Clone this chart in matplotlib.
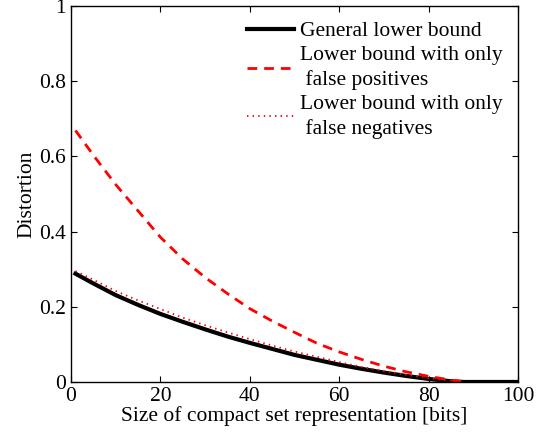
import numpy as np
import matplotlib
matplotlib.use('Agg')
import matplotlib.pyplot as plt

plt.rcParams['font.family'] = ['Liberation Serif', 'DejaVu Serif']
plt.rcParams['mathtext.fontset'] = 'stix'

# size of compact set representation [bits]
bits = [1, 5, 10, 15, 20, 25, 30, 35, 40, 45, 50, 55, 60, 65, 70, 75, 80, 85, 88, 90, 95, 100]

# general lower bound
general = [0.288, 0.262, 0.231, 0.205, 0.181, 0.160, 0.140, 0.121, 0.104, 0.088,
           0.072, 0.059, 0.046, 0.035, 0.025, 0.016, 0.008, 0.002, 0.0, 0.0, 0.0, 0.0]

# only false positives
bits_fp = [1, 5, 10, 15, 20, 25, 30, 35, 40, 45, 50, 55, 60, 65, 70, 75, 80, 85, 88]
false_pos = [0.669, 0.603, 0.525, 0.455, 0.385, 0.327, 0.278, 0.235, 0.195, 0.162,
             0.132, 0.103, 0.080, 0.060, 0.042, 0.027, 0.015, 0.005, 0.0]

# only false negatives
bits_fn = [1, 5, 10, 15, 20, 25, 30, 35, 40, 45, 50, 55, 60, 65, 70, 75, 80, 85, 87]
false_neg = [0.295, 0.272, 0.242, 0.217, 0.194, 0.171, 0.151, 0.132, 0.114, 0.097,
             0.081, 0.067, 0.053, 0.040, 0.029, 0.019, 0.010, 0.003, 0.0]

fig = plt.figure(figsize=(5.48, 4.36), dpi=100)
ax = fig.add_axes([0.1296, 0.1239, 0.8157, 0.8624])

ax.plot(bits, general, color='black', lw=3.0, label='General lower bound')
ax.plot(bits_fp, false_pos, color='red', lw=2.0, linestyle=(0, (3.5, 2.5)),
        label='Lower bound with only\n false positives')
ax.plot(bits_fn, false_neg, color='red', lw=1.3, linestyle=(0, (0.8, 2.3)),
        label='Lower bound with only\n false negatives')

ax.set_xlim(0, 100)
ax.set_ylim(0, 1)
ax.set_xticks([0, 20, 40, 60, 80, 100])
ax.set_yticks([0, 0.2, 0.4, 0.6, 0.8, 1])
ax.set_yticklabels(['0', '0.2', '0.4', '0.6', '0.8', '1'])
ax.tick_params(direction='in', top=True, right=True, labelsize=15.5, length=4, width=0.8)
for s in ax.spines.values():
    s.set_linewidth(1.0)

ax.set_xlabel('Size of compact set representation [bits]', fontsize=15.5, labelpad=0)
ax.set_ylabel('Distortion', fontsize=15.5, labelpad=2)

leg = ax.legend(loc='upper right', frameon=False, fontsize=15.5, handlelength=2.2,
                handletextpad=0.3, labelspacing=0.25, borderaxespad=0.3)
for t in leg.get_texts():
    t.set_linespacing(1.3)

fig.savefig('out.png', dpi=100)
